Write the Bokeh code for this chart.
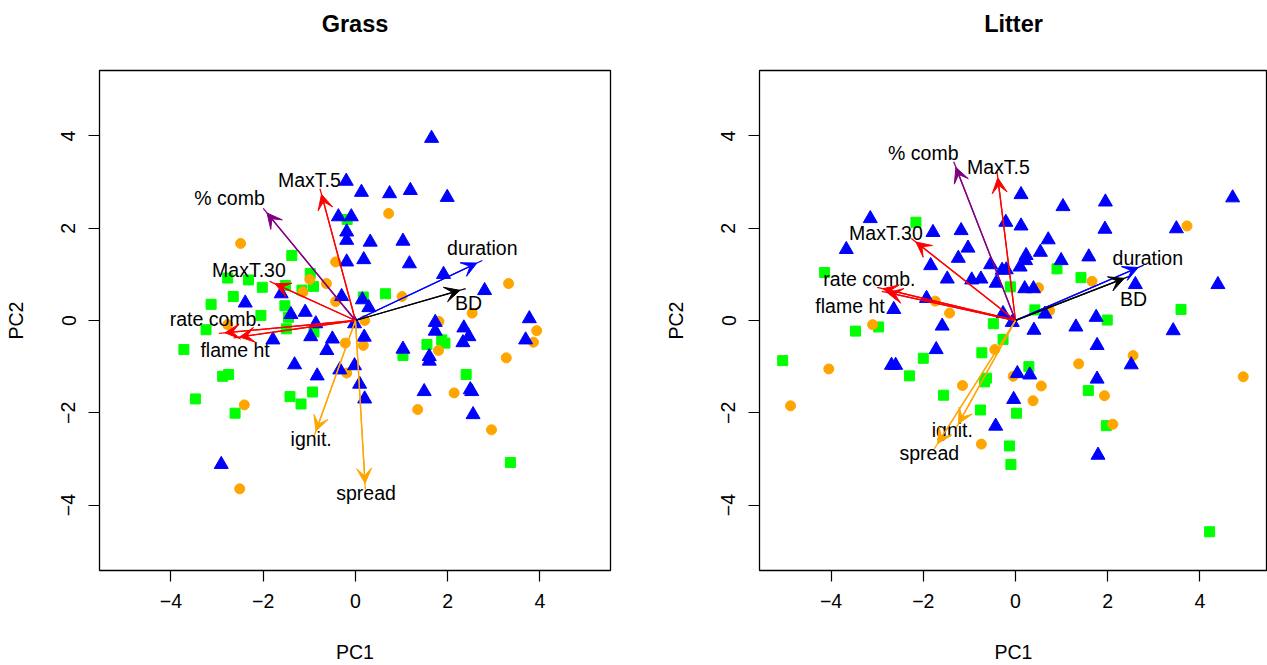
from bokeh.plotting import figure
from bokeh.models import Range1d, FixedTicker, Arrow, VeeHead, LinearAxis
from bokeh.layouts import row
from bokeh.embed import file_html
from bokeh.resources import INLINE
from bokeh.core.properties import value
import math

FONT = "Liberation Sans"
TICKS = [-4, -2, 0, 2, 4]

# ---------------- Grass panel data ----------------
grass_tri_x = [1.65, -0.20, 0.13, 0.74, 1.19, 1.99, -0.37, -0.09, -0.19, -0.19, 0.32, 1.03, -0.19, 0.18, 1.17, 1.91, 2.80,
               -1.61, -0.30, 0.15, 0.29, -2.39, -1.40, -1.09, -0.02, -0.86, -1.79, -0.97, -0.50, -0.62, 0.19, -1.32, -0.83,
               -0.34, -0.02, 0.09, 0.20, -2.91, 1.03, 1.60, 1.60, 1.73, 1.73, 2.35, 2.46, 2.33, 3.77, 3.69, 1.49, 2.49, 2.52, 2.55]
grass_tri_y = [3.95, 3.02, 2.78, 2.75, 2.82, 2.67, 2.25, 2.25, 1.92, 1.74, 1.70, 1.72, 1.27, 1.32, 1.23, 1.00, 0.65,
               0.58, 0.52, 0.45, 0.28, 0.38, 0.13, 0.18, -0.07, -0.07, -0.42, -0.35, -0.40, -0.65, -0.36, -0.96, -1.20,
               -1.07, -0.98, -1.38, -1.70, -3.12, -0.62, -0.78, -0.88, -0.04, -0.23, -0.16, -0.35, -0.48, 0.04, -0.42, -1.54, -1.50, -1.54, -2.04]
grass_circ_x = [-2.49, 0.72, -0.43, -0.99, -0.63, -1.14, 1.01, 3.32, -0.43, -2.77, 0.20, 1.81, 2.53, -0.22, 0.17, -0.19,
                1.80, 3.93, 3.86, 3.27, 2.14, 1.35, 2.95, -2.41, -2.51]
grass_circ_y = [1.67, 2.32, 1.27, 0.89, 0.80, 0.62, 0.52, 0.80, 0.41, -0.09, 0.00, -0.02, 0.16, -0.49, -0.54, -1.14,
                -0.65, -0.22, -0.47, -0.81, -1.57, -1.93, -2.37, -1.83, -3.65]
grass_sq_x = [-1.38, -0.18, -0.98, -0.91, -1.16, -1.52, -2.02, -2.32, -2.77, -2.65, -3.13, -1.53, -2.05, -1.45, -3.24, -1.50,
              -0.90, -3.72, 0.17, 0.65, 1.03, 1.55, 1.87, 1.94, 2.40, 3.36, -2.88, -2.75, -3.47, -2.61, -1.42, -1.18, -0.93]
grass_sq_y = [1.41, 2.19, 1.02, 0.74, 0.66, 0.76, 0.72, 0.88, 0.92, 0.52, 0.35, 0.32, 0.11, 0.07, -0.20, -0.18,
              -0.25, -0.63, 0.51, 0.58, -0.76, -0.52, -0.42, -0.49, -1.17, -3.08, -1.21, -1.17, -1.70, -2.01, -1.65, -1.81, -1.55]

# ---------------- Litter panel data ----------------
litter_tri_x = [-3.15, -3.67, -1.79, -1.18, -1.03, -1.24, -1.84, -1.48, -0.95, -0.75, -0.54, -0.42, -0.29, -0.20, 0.12, 1.03,
                1.95, 4.71, -0.21, 0.12, 1.94, 3.49, 0.71, 0.54, 0.23, 0.22, 0.99, 1.59, 0.10, 0.20, 0.39, 2.60, 4.39,
                -1.93, -2.64, 0.64, 1.75, -0.07, -0.27, -1.59, 0.40, 1.31, 3.42, 1.77, 2.51, 0.04, 0.31, 1.77, -0.04,
                1.79, -1.72, -2.69, -2.60, -0.43]
litter_tri_y = [2.21, 1.54, 1.91, 1.95, 1.57, 1.35, 1.19, 0.90, 0.88, 0.90, 1.21, 0.81, 1.09, 1.10, 2.73, 2.47,
                2.57, 2.66, 2.13, 2.05, 1.98, 1.99, 1.75, 1.48, 1.41, 1.30, 1.30, 1.38, 1.16, 0.69, 0.69, 0.78, 0.78,
                0.48, 0.24, 0.14, 0.07, -0.04, 0.15, -0.12, -0.21, -0.14, -0.22, -0.54, -0.96, -1.15, -1.18, -1.27, -1.71,
                -2.92, -0.63, -0.97, -0.97, -2.29]
litter_circ_x = [3.72, 1.66, 0.50, -1.74, -1.43, 0.74, -3.10, -4.05, -4.88, -0.45, -1.15, -0.05, 0.56, 0.38, 1.37, 2.55,
                 1.93, 2.11, -0.74, 4.94]
litter_circ_y = [2.05, 0.85, 0.71, 0.42, 0.16, 0.21, -0.09, -1.05, -1.85, -0.63, -1.41, -1.21, -1.42, -1.74, -0.94, -0.76,
                 -1.63, -2.25, -2.68, -1.22]
litter_sq_x = [-2.16, -4.14, -0.11, 0.90, 1.42, 0.42, 3.59, 1.99, -2.97, -3.47, -0.48, -0.27, -5.05, -2.00, -0.73, -2.30,
               0.29, -0.63, -0.67, -1.56, -0.76, 0.02, 1.58, 1.97, -0.13, -0.10, 4.21]
litter_sq_y = [2.13, 1.04, 0.73, 1.12, 0.93, 0.23, 0.24, 0.01, -0.14, -0.23, -0.07, -0.41, -0.87, -0.82, -0.70, -1.20,
               -1.00, -1.25, -1.33, -1.62, -1.94, -2.01, -1.52, -2.28, -2.72, -3.12, -4.58]

# ---------------- loading vectors ----------------
var_names = ["MaxT.5", "% comb", "MaxT.30", "rate comb.", "flame ht", "duration", "BD", "ignit.", "spread"]
var_colors = ["#FF0000", "#800080", "#FF0000", "#FF0000", "#FF0000", "#0000FF", "#000000", "#FFA500", "#FFA500"]

grass_load_x = [-0.77, -2.00, -1.86, -2.96, -2.64, 2.75, 2.39, -0.90, 0.215]
grass_load_y = [2.86, 2.43, 0.85, -0.28, -0.375, 1.30, 0.69, -2.52, -3.66]
grass_lab_x = [-1.00, -2.73, -2.31, -3.03, -2.61, 2.75, 2.45, -0.96, 0.23]
grass_lab_y = [3.05, 2.65, 1.09, 0.04, -0.63, 1.58, 0.38, -2.57, -3.74]

litter_load_x = [-0.40, -1.34, -2.26, -3.00, -2.90, 2.78, 2.48, -1.30, -1.76]
litter_load_y = [3.22, 3.44, 1.78, 0.72, 0.63, 1.20, 0.96, -2.35, -2.78]
litter_lab_x = [-0.37, -2.00, -2.81, -3.17, -3.59, 2.87, 2.56, -1.37, -1.87]
litter_lab_y = [3.33, 3.64, 1.90, 0.89, 0.32, 1.36, 0.46, -2.37, -2.88]

Y_RANGE = (-5.42, 5.42)


def make_panel(title, xr, width, bl, br, tri, circ, sq, load, lab):
    p = figure(width=width, height=665, x_range=Range1d(*xr), y_range=Range1d(*Y_RANGE),
               output_backend="svg", toolbar_location=None,
               min_border_left=bl, min_border_right=br, min_border_top=70, min_border_bottom=95)
    p.grid.visible = False
    p.outline_line_color = "black"
    p.outline_line_width = 1.3
    p.background_fill_color = "white"
    p.border_fill_color = "white"
    for ax in (p.xaxis[0], p.yaxis[0]):
        ax.ticker = FixedTicker(ticks=TICKS)
        ax.axis_line_color = None
        ax.major_tick_line_color = "black"
        ax.major_tick_line_width = 1.2
        ax.major_tick_out = 11
        ax.major_tick_in = 0
        ax.minor_tick_line_color = None
        ax.major_label_text_font = FONT
        ax.major_label_text_font_size = "19.5px"
        ax.major_label_text_color = "black"
        ax.axis_label_text_font = FONT
        ax.axis_label_text_font_size = "19.5px"
        ax.axis_label_text_font_style = "normal"
        ax.axis_label_text_color = "black"
    p.xaxis.axis_label = "PC1"
    p.yaxis.axis_label = "PC2"
    p.xaxis.major_label_standoff = 12
    p.xaxis.axis_label_standoff = 30
    p.yaxis.major_label_orientation = "vertical"
    p.yaxis.major_label_standoff = 13
    p.yaxis.axis_label_standoff = 32

    # panel title drawn as the label of an empty axis above the frame
    tax = LinearAxis(ticker=FixedTicker(ticks=[]), axis_label=title)
    tax.axis_line_color = None
    tax.major_tick_out = 0
    tax.major_tick_in = 0
    tax.minor_tick_out = 0
    tax.minor_tick_in = 0
    tax.major_label_standoff = 0
    tax.major_label_text_font_size = "1px"
    tax.axis_label_standoff = 34
    tax.axis_label_text_font = FONT
    tax.axis_label_text_font_size = "23.5px"
    tax.axis_label_text_font_style = "bold"
    tax.axis_label_text_color = "black"
    p.add_layout(tax, "above")

    p.scatter(sq[0], sq[1], marker="square", size=10, fill_color="#00FF00", line_color="#00FF00")
    p.scatter(circ[0], circ[1], marker="circle", size=10, fill_color="#FFA500", line_color="#FFA500")
    p.scatter(tri[0], tri[1], marker="triangle", size=14, fill_color="#0000FF", line_color="#0000FF")

    lx, ly = load
    zeros = [0.0] * len(lx)
    p.segment(zeros, zeros, lx, ly, line_color=var_colors, line_width=1.3)
    for x, y, c in zip(lx, ly, var_colors):
        L = math.hypot(x, y)
        f = 1 - 0.13 / L
        p.add_layout(Arrow(end=VeeHead(size=15, fill_color=c, line_color=c, line_width=1),
                           x_start=0, y_start=0, x_end=x * f, y_end=y * f,
                           line_color=c, line_width=1.3))
    p.text(lab[0], lab[1], text=var_names, text_font=value(FONT), text_font_size="19.5px",
           text_align="center", text_baseline="middle", text_color="black")
    return p


left = make_panel("Grass", (-5.55, 5.53), 640, 99, 30,
                  (grass_tri_x, grass_tri_y), (grass_circ_x, grass_circ_y), (grass_sq_x, grass_sq_y),
                  (grass_load_x, grass_load_y), (grass_lab_x, grass_lab_y))
right = make_panel("Litter", (-5.553, 5.466), 627, 119, 0,
                   (litter_tri_x, litter_tri_y), (litter_circ_x, litter_circ_y), (litter_sq_x, litter_sq_y),
                   (litter_load_x, litter_load_y), (litter_lab_x, litter_lab_y))

layout = row(left, right)
open("out.html", "w").write(file_html(layout, INLINE))
